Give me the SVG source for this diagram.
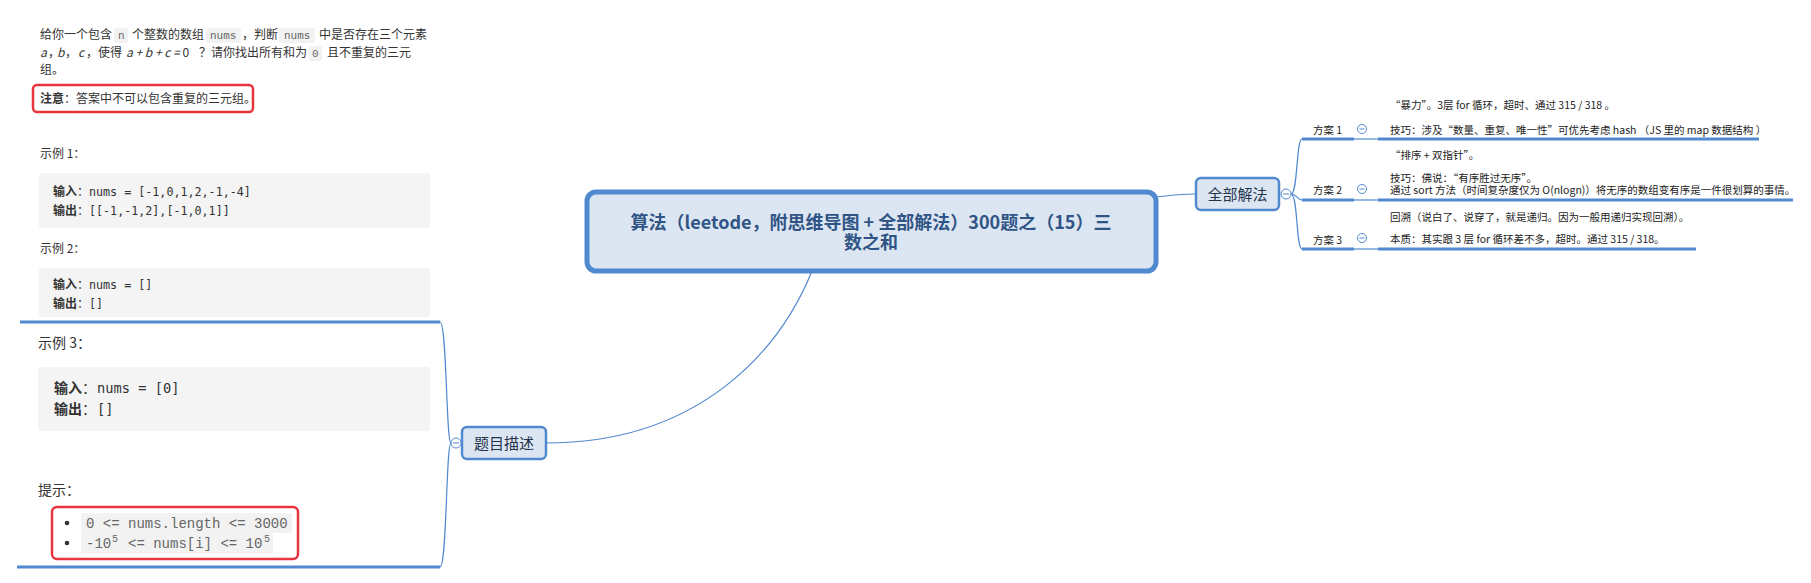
<svg xmlns="http://www.w3.org/2000/svg" width="1811" height="583" viewBox="0 0 1811 583">
<style>
.t{font-family:"Noto Sans CJK SC","Liberation Sans",sans-serif;fill:#333}
.s12{font-size:12px}
.s14{font-size:14px}
.s10{font-size:10.5px;fill:#222}
.b{font-weight:bold}
.m{font-family:"DejaVu Sans Mono","Liberation Mono",monospace}
.cm{font-family:"Liberation Mono","DejaVu Sans Mono",monospace;fill:#666}
.cbg{fill:#f2f2f2}
.gbox{fill:#f4f4f4}
.red{fill:none;stroke:#e8343d;stroke-width:2.5}
.ln{fill:none;stroke:#5189d0;stroke-width:1.2}
.ul{fill:none;stroke:#5189d0;stroke-width:3}
.node{fill:#dce6f2;stroke:#5189d0;stroke-width:2.5}
.col{fill:#fff;stroke:#5189d0;stroke-width:1}
.minus{stroke:#5189d0;stroke-width:1}
</style>
<rect width="1811" height="583" fill="#fff"/>

<g id="connectors">
  <path class="ln" d="M812,271 C780,350 700,443 546,443"/>
  <path class="ln" d="M1156,197 C1172,195 1180,194 1196,194"/>
  <path class="ln" d="M451,443 C446,443 447,322 440,322"/>
  <path class="ln" d="M451,443 C446,443 447,567 440,567"/>
  <path class="ln" d="M1291,194 C1298,194 1296,139 1302,139"/>
  <path class="ln" d="M1291,194 C1297,194 1297,200 1302,200"/>
  <path class="ln" d="M1291,194 C1298,194 1296,249 1302,249"/>
  <line class="ln" x1="1354" y1="139" x2="1378" y2="139"/>
  <line class="ln" x1="1354" y1="200" x2="1378" y2="200"/>
  <line class="ln" x1="1354" y1="249" x2="1378" y2="249"/>
</g>

<g id="center">
  <rect x="587" y="192" width="569" height="79" rx="9" fill="#dce6f2" stroke="#5189d0" stroke-width="5"/>
  <text class="t b" x="871" y="229" font-size="18" text-anchor="middle" style="fill:#2f5485">算法（leetode，附思维导图 + 全部解法）300题之（15）三</text>
  <text class="t b" x="871" y="249" font-size="18" text-anchor="middle" style="fill:#2f5485">数之和</text>
</g>

<g id="node-desc">
  <rect class="node" x="462" y="427" width="84" height="32" rx="5"/>
  <text class="t" x="504" y="449" font-size="15" text-anchor="middle" style="fill:#24344d">题目描述</text>
  <circle class="col" cx="456" cy="443" r="5"/>
  <line class="minus" x1="453" y1="443" x2="459" y2="443"/>
</g>

<g id="desc-top">
  <text class="t s12" y="39"><tspan x="40">给你一个包含</tspan><tspan x="132">个整数的数组</tspan><tspan x="242">，判断</tspan><tspan x="319">中是否存在三个元素</tspan></text>
  <rect class="cbg" x="114" y="28" width="14" height="15" rx="2"/>
  <rect class="cbg" x="206" y="28" width="35" height="15" rx="2"/>
  <rect class="cbg" x="279" y="28" width="36" height="15" rx="2"/>
  <text class="cm" font-size="11" y="39"><tspan x="118">n</tspan><tspan x="210">nums</tspan><tspan x="284">nums</tspan></text>
  <text class="t s12" y="57"><tspan x="40" font-style="italic">a</tspan><tspan x="48">，</tspan><tspan x="57" font-style="italic">b</tspan><tspan x="65">，</tspan><tspan x="78" font-style="italic">c</tspan><tspan x="86">，使得</tspan><tspan x="126" font-style="italic">a + b + c = </tspan><tspan>0</tspan><tspan x="199">？请你找出所有和为</tspan><tspan x="327">且不重复的三元</tspan></text>
  <rect class="cbg" x="309" y="46" width="13" height="15" rx="2"/>
  <text class="cm" font-size="11" x="312" y="57">0</text>
  <text class="t s12" x="40" y="74">组。</text>
  <rect class="red" x="33" y="85" width="220" height="27" rx="4"/>
  <text class="t s12" x="40" y="103"><tspan class="b">注意</tspan>：答案中不可以包含重复的三元组。</text>

  <text class="t s12" x="40" y="158">示例 1：</text>
  <rect class="gbox" x="39" y="173" width="391" height="55" rx="3"/>
  <text class="t s12" y="196"><tspan x="53" class="b">输入</tspan>：<tspan x="89" class="m" font-size="11.7">nums = [-1,0,1,2,-1,-4]</tspan></text>
  <text class="t s12" y="215"><tspan x="53" class="b">输出</tspan>：<tspan x="89" class="m" font-size="11.7">[[-1,-1,2],[-1,0,1]]</tspan></text>

  <text class="t s12" x="40" y="253">示例 2：</text>
  <rect class="gbox" x="39" y="268" width="391" height="49" rx="3"/>
  <text class="t s12" y="289"><tspan x="53" class="b">输入</tspan>：<tspan x="89" class="m" font-size="11.7">nums = []</tspan></text>
  <text class="t s12" y="308"><tspan x="53" class="b">输出</tspan>：<tspan x="89" class="m" font-size="11.7">[]</tspan></text>
  <line class="ul" x1="20" y1="322" x2="440" y2="322"/>
</g>

<g id="desc-bottom">
  <text class="t s14" x="38" y="348">示例 3：</text>
  <rect class="gbox" x="38" y="367" width="392" height="64" rx="3"/>
  <text class="t s14" y="393"><tspan x="54" class="b">输入</tspan>：<tspan x="97" class="m" font-size="13.7">nums = [0]</tspan></text>
  <text class="t s14" y="414"><tspan x="54" class="b">输出</tspan>：<tspan x="97" class="m" font-size="13.7">[]</tspan></text>
  <text class="t s14" x="38" y="495">提示：</text>
  <rect class="red" x="52" y="507" width="246" height="52" rx="5"/>
  <circle cx="67" cy="523" r="2.3" fill="#333"/>
  <circle cx="67" cy="543" r="2.3" fill="#333"/>
  <rect class="cbg" x="81" y="513" width="211" height="20" rx="2"/>
  <rect class="cbg" x="81" y="533" width="192" height="20" rx="2"/>
  <text class="cm" font-size="14" x="86" y="528">0 &lt;= nums.length &lt;= 3000</text>
  <text class="cm" font-size="14" y="548"><tspan x="86">-10</tspan><tspan x="112" dy="-6" font-size="10">5</tspan><tspan x="128" dy="6">&lt;= nums[i] &lt;= 10</tspan><tspan x="264" dy="-6" font-size="10">5</tspan></text>
  <line class="ul" x1="17" y1="567" x2="440" y2="567"/>
</g>

<g id="node-all">
  <rect class="node" x="1196" y="178" width="83" height="32" rx="5"/>
  <text class="t" x="1237.5" y="200" font-size="15" text-anchor="middle" style="fill:#24344d">全部解法</text>
  <circle class="col" cx="1286" cy="194" r="5"/>
  <line class="minus" x1="1283" y1="194" x2="1289" y2="194"/>
</g>

<g id="plan1">
  <text class="t s10" x="1313" y="134">方案 1</text>
  <line class="ul" x1="1302" y1="139" x2="1354" y2="139"/>
  <circle class="col" cx="1362" cy="129" r="4.5"/>
  <line class="minus" x1="1359.5" y1="129" x2="1364.5" y2="129"/>
</g>
<g id="plan1-detail">
  <text class="t s10" x="1390" y="109">“暴力”。3层 for 循环，超时、通过 315 / 318 。</text>
  <text class="t s10" x="1390" y="134">技巧：涉及“数量、重复、唯一性”可优先考虑 hash （JS 里的 map 数据结构 ）</text>
  <line class="ul" x1="1378" y1="139" x2="1759" y2="139"/>
</g>

<g id="plan2">
  <text class="t s10" x="1313" y="194">方案 2</text>
  <line class="ul" x1="1302" y1="200" x2="1354" y2="200"/>
  <circle class="col" cx="1362" cy="189" r="4.5"/>
  <line class="minus" x1="1359.5" y1="189" x2="1364.5" y2="189"/>
</g>
<g id="plan2-detail">
  <text class="t s10" x="1390" y="159">“排序 + 双指针”。</text>
  <text class="t s10" x="1390" y="182">技巧：佛说：“有序胜过无序”。</text>
  <text class="t s10" x="1390" y="194">通过 sort 方法（时间复杂度仅为 O(nlogn)）将无序的数组变有序是一件很划算的事情。</text>
  <line class="ul" x1="1378" y1="200" x2="1793" y2="200"/>
</g>

<g id="plan3">
  <text class="t s10" x="1313" y="244">方案 3</text>
  <line class="ul" x1="1302" y1="249" x2="1354" y2="249"/>
  <circle class="col" cx="1362" cy="238" r="4.5"/>
  <line class="minus" x1="1359.5" y1="238" x2="1364.5" y2="238"/>
</g>
<g id="plan3-detail">
  <text class="t s10" x="1390" y="221">回溯（说白了、说穿了，就是递归。因为一般用递归实现回溯）。</text>
  <text class="t s10" x="1390" y="243">本质：其实跟 3 层 for 循环差不多，超时。通过 315 / 318。</text>
  <line class="ul" x1="1378" y1="249" x2="1696" y2="249"/>
</g>
</svg>
